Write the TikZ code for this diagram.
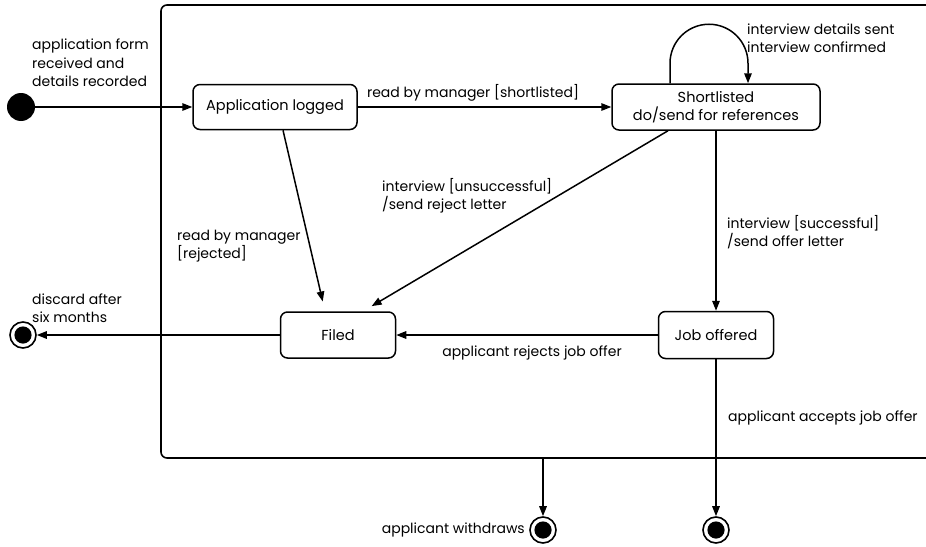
\documentclass[tikz,border=0pt]{standalone}
\usepackage{fontspec}
\setmainfont{Poppins}
\usetikzlibrary{arrows.meta,calc}
\tikzset{
  statebox/.style={draw, line width=1.5pt, rounded corners=7pt, align=center, inner sep=0pt},
  lbl/.style={font=\fontsize{14}{18.5}\selectfont, inner sep=0pt, align=left},
  trans/.style={line width=1.5pt, -{Triangle[length=10pt,width=7.5pt]}},
  initstate/.style={circle, fill=black, minimum size=28pt, inner sep=0pt},
  finalstate/.style={circle, draw, line width=1.6pt, minimum size=26pt, inner sep=0pt,
    path picture={\fill (path picture bounding box.center) circle (8.6pt);}},
}
\begin{document}
\begin{tikzpicture}[x=1pt,y=-1pt]
\useasboundingbox (0,0) rectangle (926,546);
% superstate frame
\draw[line width=1.6pt, rounded corners=6pt] (950,5) -- (161,5) -- (161,458) -- (950,458);
\coordinate (fb) at (543,458);

% states
\node[statebox, minimum width=164pt, minimum height=45pt, font=\fontsize{14.5}{18}\selectfont] (app) at (275,107) {Application logged};
\node[statebox, minimum width=208pt, minimum height=46pt, font=\fontsize{14.5}{18}\selectfont] (short) at (716,107) {Shortlisted\\do/send for references};
\node[statebox, minimum width=115pt, minimum height=46pt, font=\fontsize{14.5}{18}\selectfont] (filed) at (338,335) {Filed};
\node[statebox, minimum width=115pt, minimum height=47pt, font=\fontsize{14.5}{18}\selectfont] (job) at (716,335) {Job offered};

\node[initstate] (init) at (21,107) {};
\node[finalstate] (fin1) at (23,335) {};
\node[finalstate] (fin2) at (543,530) {};
\node[finalstate] (fin3) at (716,530) {};

% transitions
\draw[trans] (init) -- (app.west |- init);
\draw[trans] (app.east) -- (short.west);
\draw[trans] ($(short.north)+(-46,0)$) -- ++(0,-20) arc[start angle=180, end angle=360, radius=39] -- ($(short.north)+(32,0)$);
\draw[trans, shorten >=10pt] ($(app.south)+(8,0)$) -- ($(filed.north)+(-13,0)$);
\draw[trans, shorten >=10pt] ($(short.south)+(-48,0)$) -- ($(filed.north)+(25,0)$);
\draw[trans] (short.south) -- (job.north);
\draw[trans] (job.west) -- (filed.east);
\draw[trans] (filed.west) -- (fin1.east);
\draw[trans] (job.south) -- (fin3.north);
\draw[trans] (fb) -- (fin2.north);

% labels
\node[lbl, anchor=north west] (l1) at (32,39) {application form\\received and\\details recorded};
\node[lbl] (l2) at (473,93) {read by manager [shortlisted]};
\node[lbl, anchor=west] (l3) at (747,38) {interview details sent\\interview confirmed};
\node[lbl, anchor=west] (l4) at (382,196) {interview [unsuccessful]\\/send reject letter};
\node[lbl, anchor=west] (l5) at (177,246) {read by manager\\{}[rejected]};
\node[lbl, anchor=west] (l6) at (727,232) {interview [successful]\\/send offer letter};
\node[lbl, anchor=west] (l7) at (32,308) {discard after\\six months};
\node[lbl] (l8) at (532,353) {applicant rejects job offer};
\node[lbl, anchor=west] (l9) at (728,418) {applicant accepts job offer};
\node[lbl, anchor=east] (l10) at (525,530) {applicant withdraws};
\end{tikzpicture}
\end{document}
